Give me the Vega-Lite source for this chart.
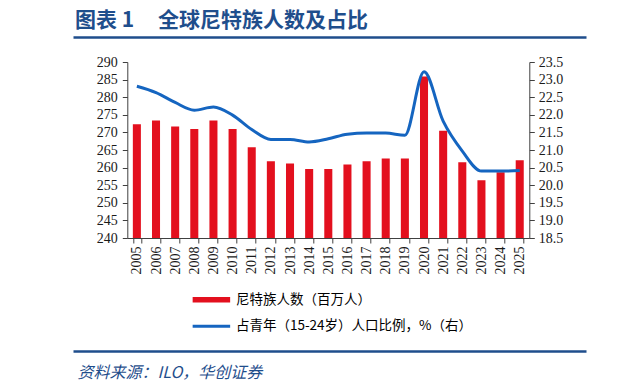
{
  "$schema": "https://vega.github.io/schema/vega-lite/v6.json",
  "width": 402,
  "height": 176,
  "autosize": {"type": "none"},
  "padding": {"left": 127.3, "top": 62, "right": 90.7, "bottom": 154},
  "background": "#ffffff",
  "config": {"view": {"stroke": null}, "axis": {"grid": false}},
  "title": {
    "text": "图表\u00a01\u00a0\u00a0\u00a0\u00a0\u00a0全球尼特族人数及占比",
    "anchor": "start",
    "frame": "group",
    "dx": -52.3,
    "offset": 6,
    "font": "Noto Sans CJK SC",
    "fontSize": 21,
    "fontWeight": "bold",
    "color": "#1F4E8C"
  },
  "data": {
    "values": [
      {"year": "2005", "neet": 272.3, "ratio": 22.81},
      {"year": "2006", "neet": 273.4, "ratio": 22.63},
      {"year": "2007", "neet": 271.7, "ratio": 22.35},
      {"year": "2008", "neet": 271.0, "ratio": 22.13},
      {"year": "2009", "neet": 273.4, "ratio": 22.22},
      {"year": "2010", "neet": 271.0, "ratio": 21.99},
      {"year": "2011", "neet": 265.8, "ratio": 21.58},
      {"year": "2012", "neet": 261.8, "ratio": 21.30},
      {"year": "2013", "neet": 261.2, "ratio": 21.30},
      {"year": "2014", "neet": 259.6, "ratio": 21.23},
      {"year": "2015", "neet": 259.6, "ratio": 21.32},
      {"year": "2016", "neet": 260.9, "ratio": 21.45},
      {"year": "2017", "neet": 261.8, "ratio": 21.48},
      {"year": "2018", "neet": 262.6, "ratio": 21.48},
      {"year": "2019", "neet": 262.6, "ratio": 21.42},
      {"year": "2020", "neet": 285.9, "ratio": 23.22},
      {"year": "2021", "neet": 270.5, "ratio": 21.82},
      {"year": "2022", "neet": 261.5, "ratio": 20.97},
      {"year": "2023", "neet": 256.4, "ratio": 20.40},
      {"year": "2024", "neet": 258.7, "ratio": 20.40},
      {"year": "2025", "neet": 262.1, "ratio": 20.42}
    ]
  },
  "layer": [
    {
      "layer": [
        {
          "mark": {"type": "bar", "clip": true},
          "encoding": {
            "x": {
              "field": "year",
              "type": "ordinal",
              "scale": {"paddingInner": 0.58, "paddingOuter": 0.29},
              "axis": {
                "title": null,
                "labelAngle": -90,
                "labelAlign": "right",
                "labelBaseline": "middle",
                "labelFont": "Liberation Serif",
                "labelFontSize": 14,
                "labelColor": "#1a1a1a",
                "labelPadding": 3,
                "tickBand": "extent",
                "tickSize": 5,
                "tickColor": "#404040",
                "domainColor": "#404040",
                "grid": false
              }
            },
            "y": {
              "field": "neet",
              "type": "quantitative",
              "scale": {"domain": [240, 290], "zero": false, "nice": false},
              "axis": {
                "title": null,
                "values": [240, 245, 250, 255, 260, 265, 270, 275, 280, 285, 290],
                "labelFont": "Liberation Serif",
                "labelFontSize": 14,
                "labelColor": "#1a1a1a",
                "labelPadding": 5,
                "tickSize": 5,
                "tickColor": "#404040",
                "domainColor": "#404040",
                "grid": false
              }
            },
            "color": {
              "datum": "尼特族人数（百万人）",
              "type": "nominal",
              "scale": {
                "domain": ["尼特族人数（百万人）", "占青年（15-24岁）人口比例，%（右）"],
                "range": ["#E3101E", "#1565C0"]
              },
              "legend": {
                "orient": "none",
                "legendX": 76.6,
                "legendY": 230.2,
                "direction": "vertical",
                "title": null,
                "padding": 0,
                "symbolType": "M-2.5,-0.4H2.5V0.4H-2.5Z",
                "symbolSize": 225,
                "labelOffset": 17,
                "rowPadding": 12.6,
                "labelFont": "Noto Sans CJK SC",
                "labelFontSize": 13.5,
                "labelColor": "#000000",
                "labelLimit": 400,
                "encode": {
                  "symbols": {
                    "update": {
                      "shape": {"signal": "datum.value === '尼特族人数（百万人）' ? 'M-2.5,-0.37H2.5V0.37H-2.5Z' : 'M-2.5,-0.2H2.5V0.2H-2.5Z'"},
                      "fill": {"signal": "scale('color', datum.value)"},
                      "stroke": {"value": "transparent"},
                      "strokeWidth": {"value": 0},
                      "opacity": {"value": 1}
                    }
                  }
                }
              }
            }
          }
        },
        {
          "mark": {"type": "line", "strokeWidth": 3, "interpolate": "monotone"},
          "encoding": {
            "x": {"field": "year", "type": "ordinal"},
            "y": {
              "field": "ratio",
              "type": "quantitative",
              "scale": {"domain": [18.5, 23.5], "zero": false, "nice": false},
              "axis": {
                "orient": "right",
                "title": null,
                "values": [18.5, 19, 19.5, 20, 20.5, 21, 21.5, 22, 22.5, 23, 23.5],
                "format": ".1f",
                "labelFont": "Liberation Serif",
                "labelFontSize": 14,
                "labelColor": "#1a1a1a",
                "labelPadding": 4,
                "tickSize": 5,
                "tickColor": "#404040",
                "domainColor": "#404040",
                "grid": false
              }
            },
            "color": {"datum": "占青年（15-24岁）人口比例，%（右）", "type": "nominal"}
          }
        }
      ],
      "resolve": {"scale": {"y": "independent"}}
    },
    {
      "mark": {"type": "point", "opacity": 0},
      "encoding": {
        "x": {
          "field": "year",
          "type": "nominal",
          "scale": {"type": "point", "range": [-54.3, 458.7], "padding": 0},
          "axis": {
            "orient": "top",
            "offset": 25,
            "labels": false,
            "ticks": false,
            "title": null,
            "grid": false,
            "domainColor": "#1F4E8C",
            "domainWidth": 2.5
          }
        }
      }
    },
    {
      "mark": {"type": "point", "opacity": 0},
      "encoding": {
        "x": {
          "field": "year",
          "type": "nominal",
          "scale": {"type": "point", "range": [-54.3, 458.7], "padding": 0},
          "axis": {
            "orient": "bottom",
            "offset": 113,
            "labels": false,
            "ticks": false,
            "grid": false,
            "domainColor": "#1F4E8C",
            "domainWidth": 2.5,
            "title": "资料来源：ILO，华创证券",
            "titleAnchor": "start",
            "titleAlign": "left",
            "titleBaseline": "middle",
            "titleX": -50.3,
            "titleY": 21,
            "titleFont": "Noto Sans CJK SC",
            "titleFontSize": 16,
            "titleFontStyle": "italic",
            "titleFontWeight": "normal",
            "titleColor": "#1F4E8C"
          }
        }
      }
    }
  ],
  "resolve": {"scale": {"x": "independent", "y": "independent"}, "axis": {"x": "independent"}}
}
